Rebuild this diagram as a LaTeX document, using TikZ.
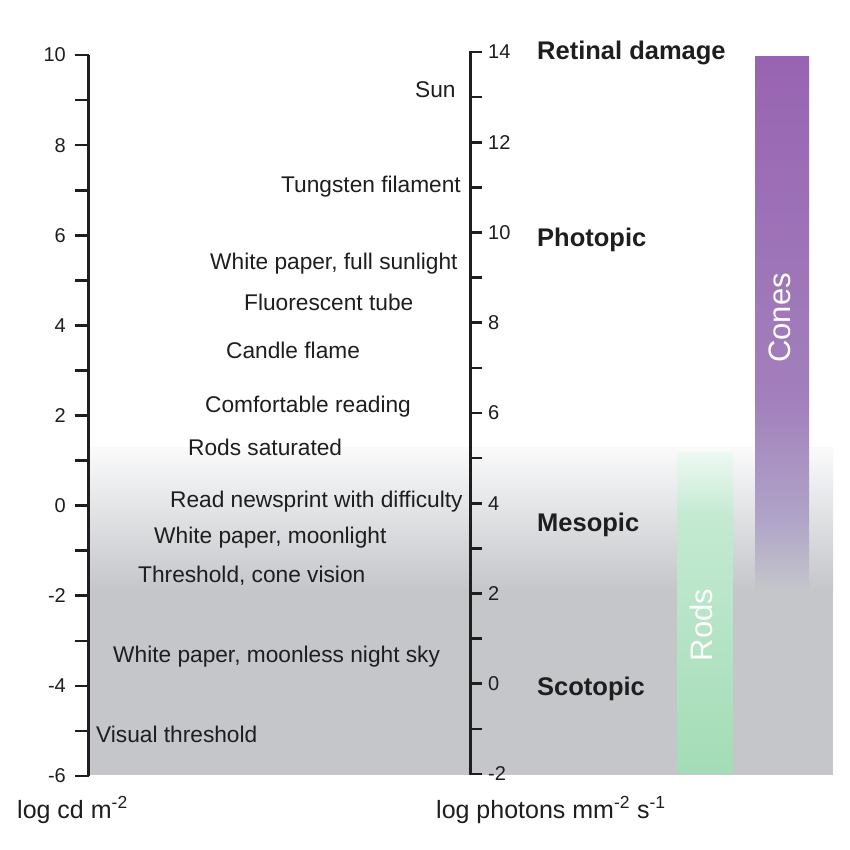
\documentclass[tikz,border=0pt]{standalone}
\usepackage{fontspec}
\setmainfont{Liberation Sans}
\definecolor{bggray}{RGB}{196,198,202}
\definecolor{rodgreen}{RGB}{163,220,182}
\definecolor{rodlight}{RGB}{196,234,210}
\definecolor{conetop}{RGB}{152,100,178}
\definecolor{conemid}{RGB}{162,128,188}
\definecolor{conelow}{RGB}{176,164,200}
\definecolor{txt}{RGB}{30,30,30}
\begin{document}
\begin{tikzpicture}[x=1pt,y=-1pt,
  lbl/.style={anchor=base west, inner sep=0, font=\fontsize{22.7}{26}\selectfont, text=txt},
  num/.style={inner sep=0, font=\fontsize{20}{24}\selectfont, text=txt},
  reg/.style={anchor=base west, inner sep=0, font=\fontsize{25.5}{30}\selectfont\bfseries, text=txt},
  ttl/.style={anchor=base west, inner sep=0, font=\fontsize{25}{30}\selectfont, text=txt},
  bartxt/.style={rotate=90, inner sep=0, text=white, font=\fontsize{31}{36}\selectfont},
  tickline/.style={line width=2.6pt, draw=txt},
  axisline/.style={line width=3pt, draw=txt}]
\useasboundingbox (0,0) rectangle (850,850);
% background
\fill[white] (0,0) rectangle (850,850);
\shade[top color=bggray!8, bottom color=bggray] (88,447) rectangle (833,591);
\fill[bggray] (88,590) rectangle (833,775);
% rods bar
\shade[top color=rodlight!30, bottom color=rodlight] (677,452) rectangle (733,515);
\shade[top color=rodlight, bottom color=rodgreen] (677,514.5) rectangle (733,773);
% cones bar
\shade[top color=conetop, bottom color=conemid] (755,57) rectangle (809,400);
\shade[top color=conemid, bottom color=conelow] (755,399.5) rectangle (809,520);
\shade[top color=conelow, bottom color=bggray] (755,519.5) rectangle (809,590);
\node[bartxt] (rods) at (701,625) {Rods};
\node[bartxt] (cones) at (780,318) {Cones};
% left axis
\draw[axisline] (88,55) -- (88,776);
\foreach \v in {-6,...,10}{
  \pgfmathsetmacro\yy{776-(\v+6)*45.06}
  \draw[tickline] (75,\yy) -- (89,\yy);
}
\foreach \v in {-6,-4,...,10}{
  \pgfmathsetmacro\yy{776-(\v+6)*45.06}
  \node[num, anchor=east] (ln\v) at (66,\yy) {\v};
}
% right axis
\draw[axisline] (470,52) -- (470,774);
\foreach \v in {-2,...,14}{
  \pgfmathsetmacro\yy{774-(\v+2)*45.125}
  \draw[tickline] (469,\yy) -- (482,\yy);
}
\foreach \v in {-2,0,...,14}{
  \pgfmathsetmacro\yy{774-(\v+2)*45.125}
  \node[num, anchor=west] (rn\v) at (488,\yy) {\v};
}
% labels
\node[lbl] (sun) at (415,98) {Sun};
\node[lbl] (tung) at (281,193) {Tungsten filament};
\node[lbl] (wpfs) at (210,269) {White paper, full sunlight};
\node[lbl] (fluo) at (244,310) {Fluorescent tube};
\node[lbl] (cand) at (226,358) {Candle flame};
\node[lbl] (comf) at (205,412) {Comfortable reading};
\node[lbl] (rsat) at (188,455) {Rods saturated};
\node[lbl] (news) at (170,507) {Read newsprint with difficulty};
\node[lbl] (wpml) at (154,543) {White paper, moonlight};
\node[lbl] (thrc) at (138,582) {Threshold, cone vision};
\node[lbl] (wpnl) at (113,662) {White paper, moonless night sky};
\node[lbl] (vist) at (96,742) {Visual threshold};
% regimes
\node[reg] (ret) at (537,60) {Retinal damage};
\node[reg] (pho) at (537,246) {Photopic};
\node[reg] (mes) at (537,531) {Mesopic};
\node[reg] (sco) at (537,695) {Scotopic};
% axis titles
\node[ttl] (tl) at (17,818) {log cd m\textsuperscript{-2}};
\node[ttl] (tr) at (436,818) {log photons mm\textsuperscript{-2} s\textsuperscript{-1}};
\end{tikzpicture}
\end{document}
